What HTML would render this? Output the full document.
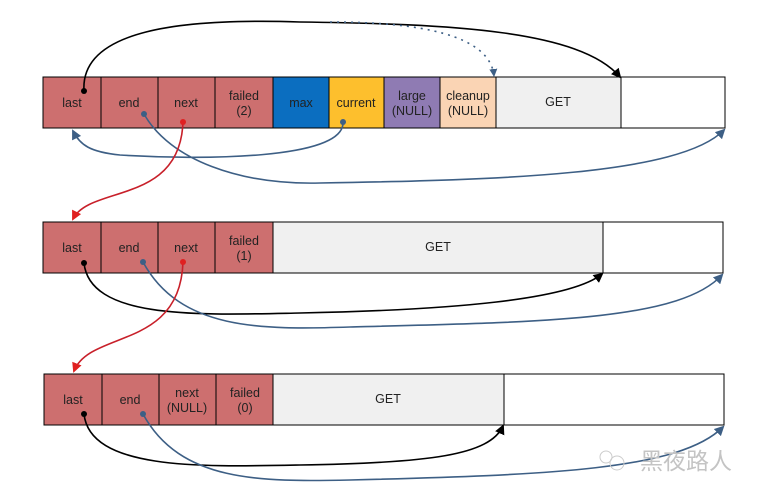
<!DOCTYPE html>
<html><head><meta charset="utf-8"><style>
html,body{margin:0;padding:0;background:#fff;}
svg{display:block}
text{font-family:"Liberation Sans",sans-serif;font-size:12.5px;fill:#222;text-anchor:middle}
</style></head><body>
<svg width="757" height="498" viewBox="0 0 757 498" xmlns="http://www.w3.org/2000/svg">
<defs>
<marker id="ab" markerWidth="10" markerHeight="10" refX="8" refY="5" orient="auto" markerUnits="userSpaceOnUse"><path d="M0,0 L10,5 L0,10 z" fill="#000"/></marker>
<marker id="au" markerWidth="10" markerHeight="10" refX="8" refY="5" orient="auto" markerUnits="userSpaceOnUse"><path d="M0,0 L10,5 L0,10 z" fill="#3d5f85"/></marker>
<marker id="ad" markerWidth="8" markerHeight="8" refX="7" refY="4" orient="auto" markerUnits="userSpaceOnUse"><path d="M0,0 L8,4 L0,8 z" fill="#3d5f85"/></marker>
<marker id="ar" markerWidth="10" markerHeight="10" refX="8" refY="5" orient="auto" markerUnits="userSpaceOnUse"><path d="M0,0 L10,5 L0,10 z" fill="#e02020"/></marker>
</defs>
<g stroke="#000" stroke-width="1">
<rect x="43" y="77" width="58" height="51" fill="#cd6f6f"/>
<rect x="101" y="77" width="57" height="51" fill="#cd6f6f"/>
<rect x="158" y="77" width="57" height="51" fill="#cd6f6f"/>
<rect x="215" y="77" width="58" height="51" fill="#cd6f6f"/>
<rect x="273" y="77" width="56" height="51" fill="#0b6ec0"/>
<rect x="329" y="77" width="55" height="51" fill="#fdbf2d"/>
<rect x="384" y="77" width="56" height="51" fill="#8f7bb3"/>
<rect x="440" y="77" width="56" height="51" fill="#fad4b4"/>
<rect x="496" y="77" width="125" height="51" fill="#f0f0f0"/>
<rect x="621" y="77" width="104" height="51" fill="#fff"/>
<rect x="43" y="222" width="58" height="51" fill="#cd6f6f"/>
<rect x="101" y="222" width="57" height="51" fill="#cd6f6f"/>
<rect x="158" y="222" width="57" height="51" fill="#cd6f6f"/>
<rect x="215" y="222" width="58" height="51" fill="#cd6f6f"/>
<rect x="273" y="222" width="330" height="51" fill="#f0f0f0"/>
<rect x="603" y="222" width="120" height="51" fill="#fff"/>
<rect x="44" y="374" width="58" height="51" fill="#cd6f6f"/>
<rect x="102" y="374" width="57" height="51" fill="#cd6f6f"/>
<rect x="159" y="374" width="57" height="51" fill="#cd6f6f"/>
<rect x="216" y="374" width="57" height="51" fill="#cd6f6f"/>
<rect x="273" y="374" width="231" height="51" fill="#f0f0f0"/>
<rect x="504" y="374" width="220" height="51" fill="#fff"/>
</g>
<text x="72" y="107">last</text><text x="129" y="107">end</text><text x="186" y="107">next</text>
<text x="244" y="100">failed</text><text x="244" y="115">(2)</text>
<text x="301" y="107">max</text><text x="356" y="107">current</text>
<text x="412" y="100">large</text><text x="412" y="115">(NULL)</text>
<text x="468" y="100">cleanup</text><text x="468" y="115">(NULL)</text>
<text x="558" y="106">GET</text>
<text x="72" y="252">last</text><text x="129" y="252">end</text><text x="186" y="252">next</text>
<text x="244" y="245">failed</text><text x="244" y="260">(1)</text>
<text x="438" y="251">GET</text>
<text x="73" y="404">last</text><text x="130" y="404">end</text>
<text x="187" y="397">next</text><text x="187" y="412">(NULL)</text>
<text x="245" y="397">failed</text><text x="245" y="412">(0)</text>
<text x="388" y="403">GET</text>
<g fill="none" stroke-width="1.6">
<path d="M84,91 C80,30 180,18 300,22 C450,24 580,30 620,77" stroke="#000" marker-end="url(#ab)"/>
<path d="M330,22 C420,22 490,35 494,76" stroke="#3d5f85" stroke-dasharray="2,5" marker-end="url(#ad)"/>
<path d="M343,122 C345,160 200,160 120,155 C90,152 80,145 73,131" stroke="#3d5f85" marker-end="url(#au)"/>
<path d="M144,114 C170,160 240,185 320,183 C500,180 680,175 724,130" stroke="#3d5f85" marker-end="url(#au)"/>
<path d="M183,122 C180,205 90,185 73,219" stroke="#c8202a" marker-end="url(#ar)"/>
<path d="M84,263 C90,320 200,315 300,313 C450,310 570,300 602,274" stroke="#000" marker-end="url(#ab)"/>
<path d="M143,262 C180,330 260,330 350,327 C550,322 680,320 722,275" stroke="#3d5f85" marker-end="url(#au)"/>
<path d="M183,262 C180,350 90,330 74,371" stroke="#c8202a" marker-end="url(#ar)"/>
<path d="M84,414 C90,470 200,467 300,465 C430,463 490,455 503,426" stroke="#000" marker-end="url(#ab)"/>
<path d="M143,414 C180,482 260,482 350,480 C550,475 680,470 723,427" stroke="#3d5f85" marker-end="url(#au)"/>
</g>
<g>
<circle cx="84" cy="91" r="3" fill="#000"/><circle cx="144" cy="114" r="3" fill="#3d5f85"/><circle cx="183" cy="122" r="3" fill="#e02020"/><circle cx="343" cy="122" r="3" fill="#3d5f85"/>
<circle cx="84" cy="263" r="3" fill="#000"/><circle cx="143" cy="262" r="3" fill="#3d5f85"/><circle cx="183" cy="262" r="3" fill="#e02020"/>
<circle cx="84" cy="414" r="3" fill="#000"/><circle cx="143" cy="414" r="3" fill="#3d5f85"/>
</g>
<text x="686" y="469" style="font-family:'Liberation Sans','Noto Sans CJK SC',sans-serif;font-size:23px;fill:#c4c4c4">黑夜路人</text>
<circle cx="606" cy="457" r="6" fill="none" stroke="#ccc"/><circle cx="617" cy="463" r="7" fill="none" stroke="#ccc"/>
</svg>
</body></html>
